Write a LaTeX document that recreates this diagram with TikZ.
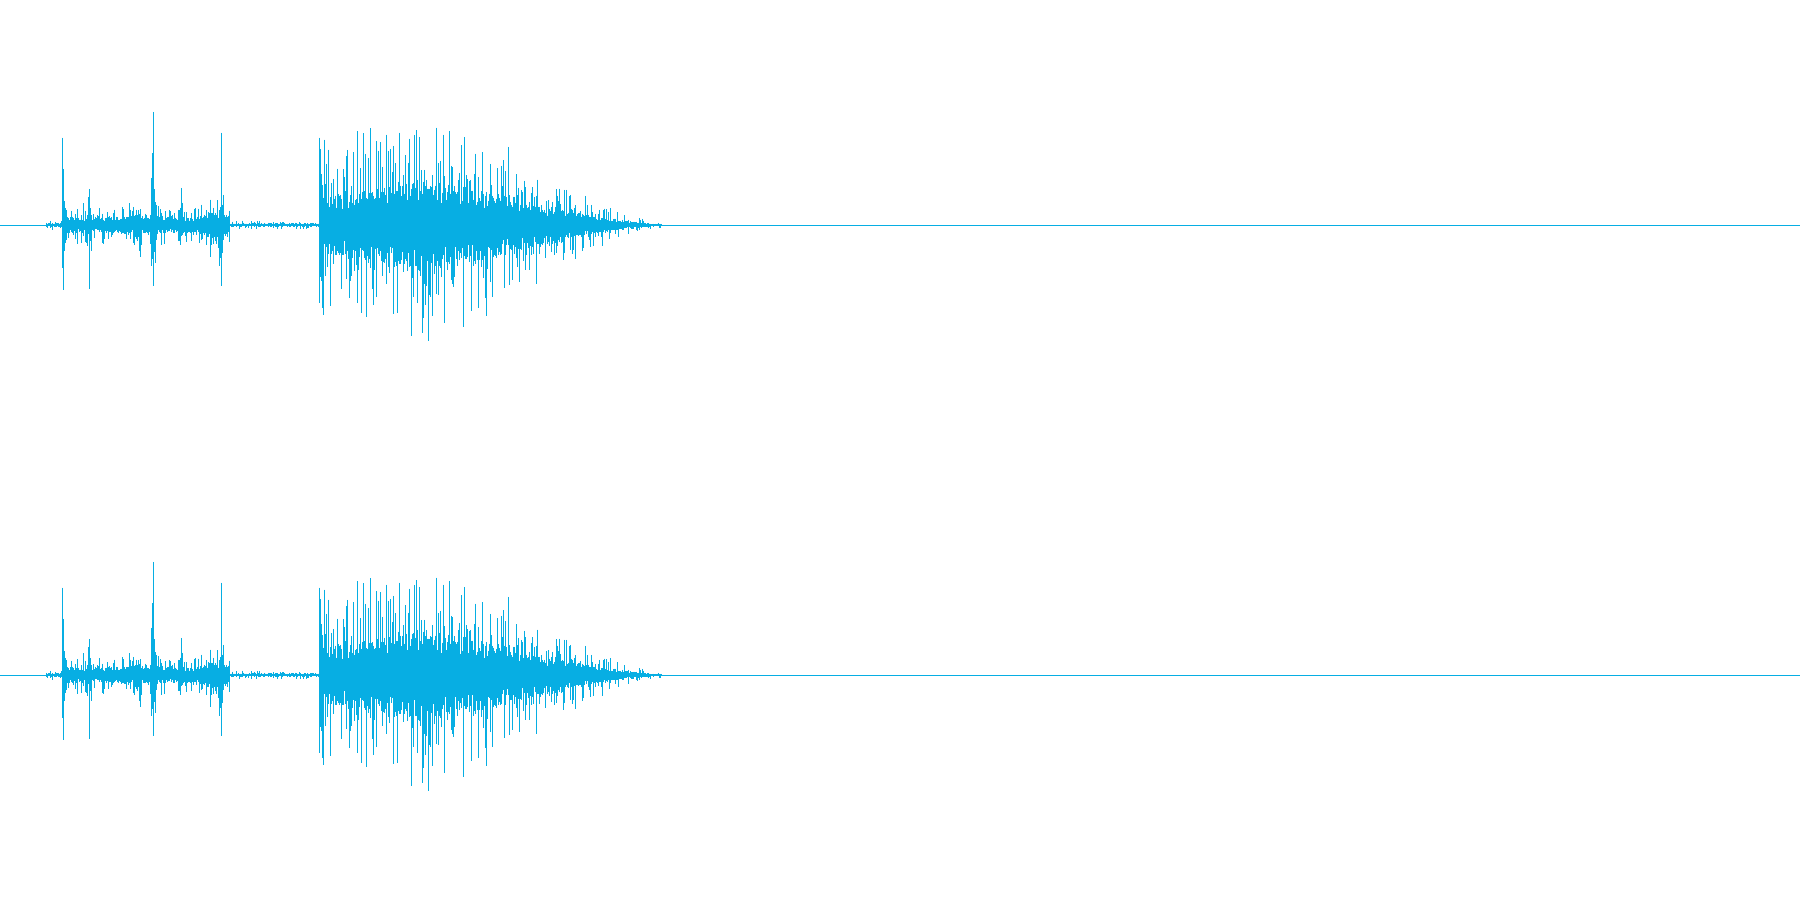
\documentclass[tikz,border=0pt]{standalone}
\definecolor{wave}{HTML}{07AEE3}
\newcommand{\wavechannel}[1]{%
  \pgfmathsetseed{4242}%
  \foreach \d in {40,40.5,...,576} {%
    \pgfmathsetmacro\e{(\d<54)*1.5
      + (\d>=54)*(\d<200)*(6 + 40*max(0,1-abs(\d-55)/4)^2 + 16*max(0,1-abs(\d-78)/2.5)^2 + 6*max(0,1-abs(\d-120)/5) + 40*max(0,1-abs(\d-134)/4)^2 + 12*max(0,1-abs(\d-157)/2.5)^2 + 20*max(0,1-abs(\d-193)/3)^2 + 4*max(0,1-abs(\d-185)/15))
      + (\d>=200)*(\d<278)*1.2
      + (\d>=278)*(\d<430)*(23 + 12*max(0,1-abs(\d-370)/70) + 55*max(0,1-abs(\d-279)/3)^2)
      + (\d>=430)*(24*max(0,1-(\d-430)/148)^1.6+0.8)}%
    \pgfmathsetmacro\up{\e*(0.55+0.6*rnd+2.3*rnd^7)}%
    \pgfmathsetmacro\dn{\e*(0.55+0.6*rnd+2.3*rnd^7)}%
    \draw[wavestroke] (\d,#1-\up) -- (\d,#1+\dn);
  }%
}
\begin{document}
\begin{tikzpicture}[x=0.574pt,y=-0.574pt,
  wavestroke/.style={draw=wave,line width=0.4pt},
  baseline/.style={draw=wave,line width=0.5pt}]
\useasboundingbox (0,0) rectangle (1568,784);
\fill[white] (0,0) rectangle (1568,784);
\coordinate (l1) at (0,196); \coordinate (r1) at (1568,196);
\coordinate (l2) at (0,588); \coordinate (r2) at (1568,588);
\draw[baseline] (l1) -- (r1);
\draw[baseline] (l2) -- (r2);
\wavechannel{196}
\wavechannel{588}
\end{tikzpicture}
\end{document}
